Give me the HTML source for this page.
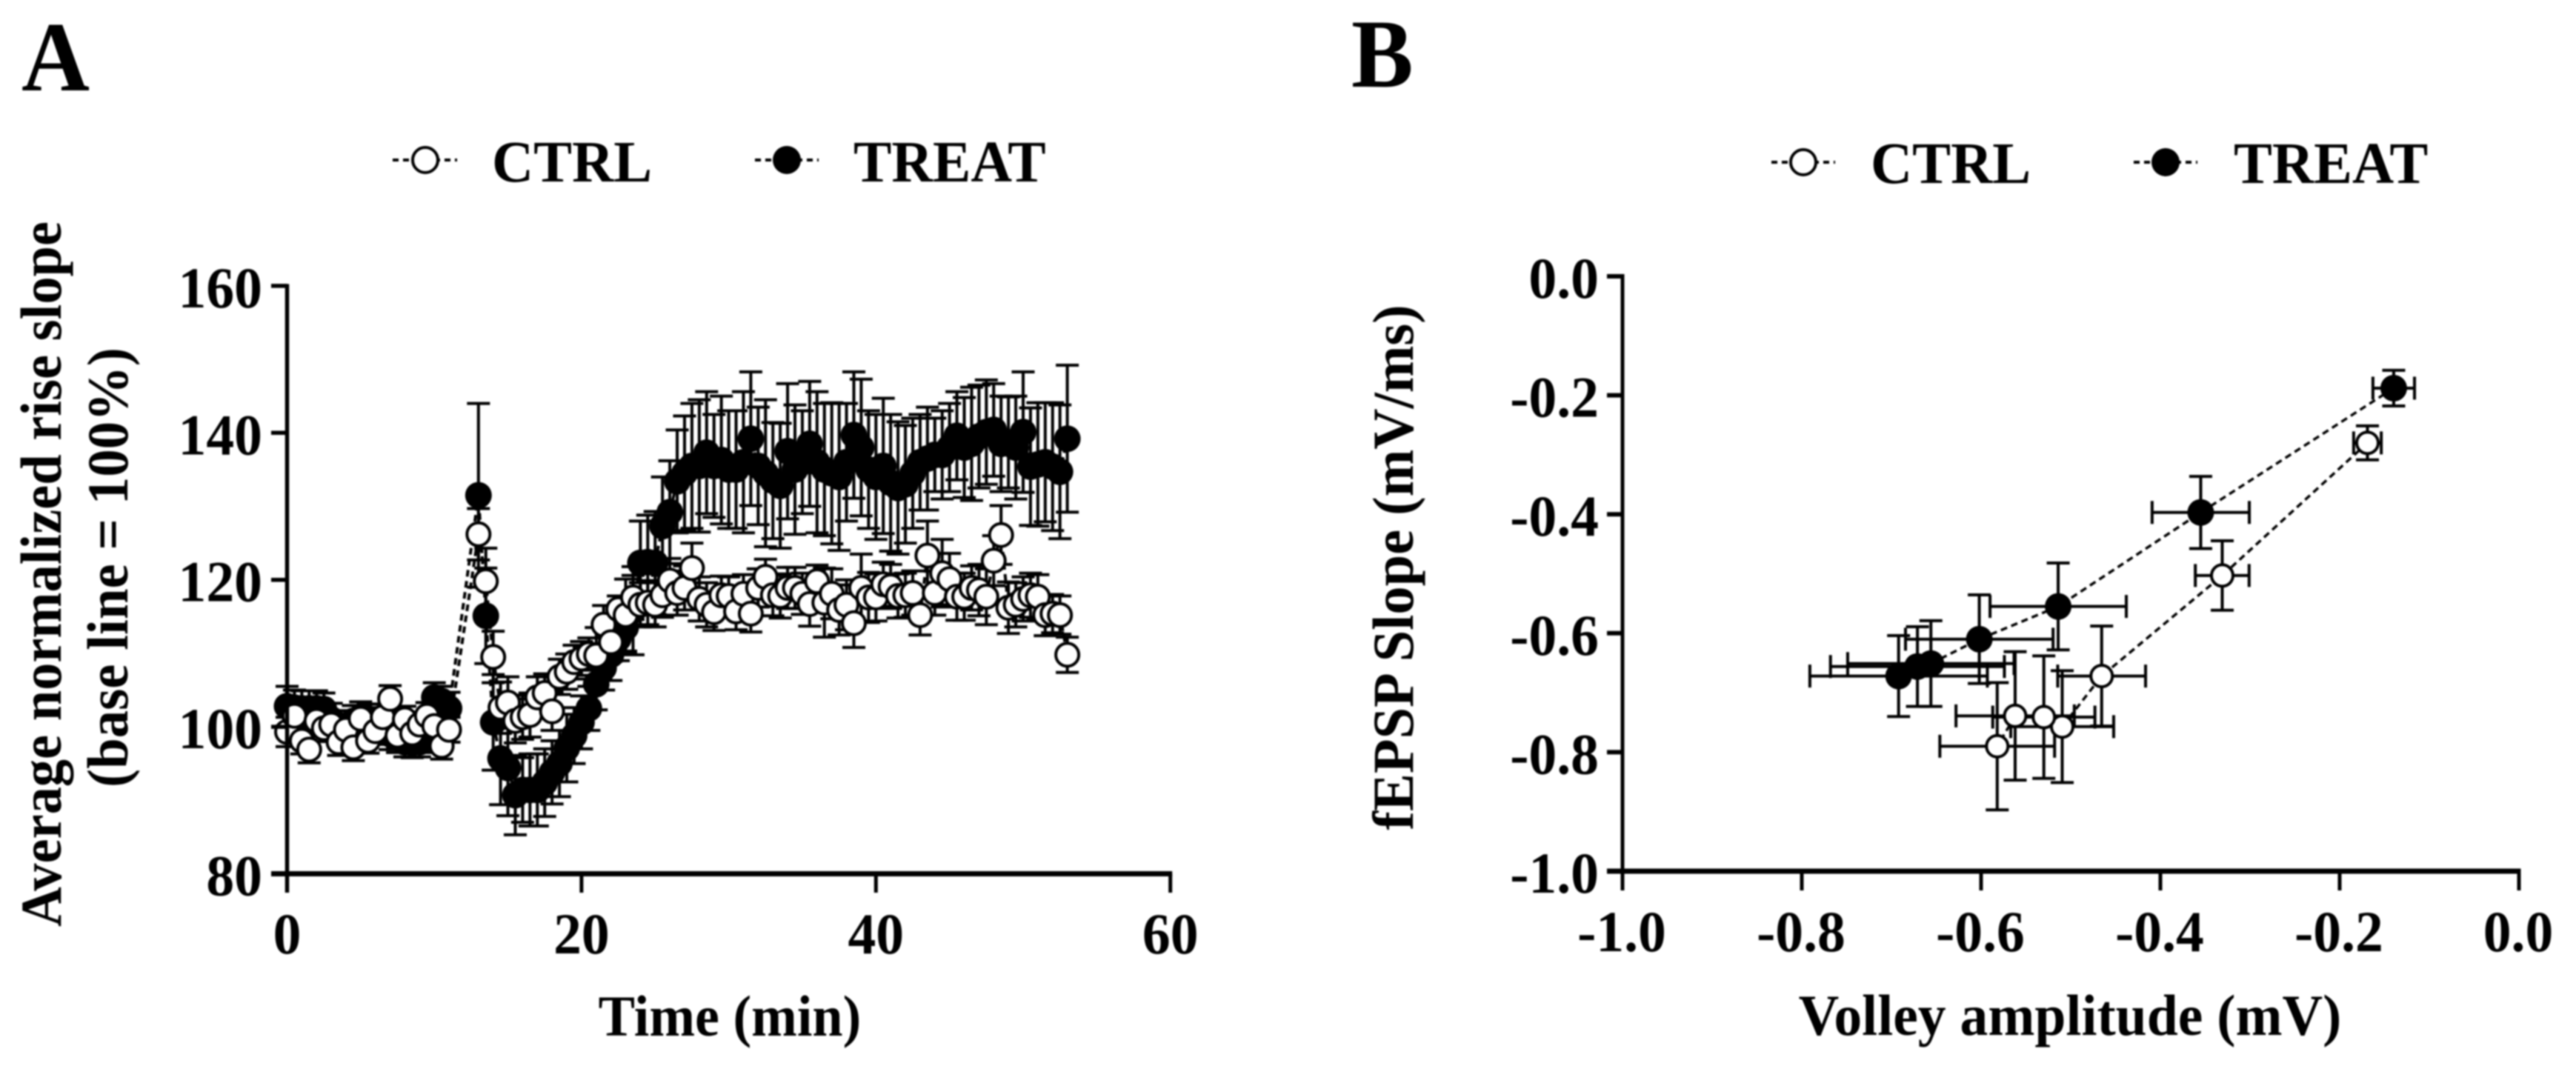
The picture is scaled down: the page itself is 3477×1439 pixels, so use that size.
<!DOCTYPE html>
<html lang="en">
<head>
<meta charset="utf-8">
<title>Rise slope time course and input-output curve</title>
<style>
html,body{margin:0;padding:0;background:#fff;width:3477px;height:1439px;overflow:hidden}
svg{display:block;filter:blur(1px)}
text{font-family:"Liberation Serif",serif;font-weight:700;fill:#000}
</style>
</head>
<body>
<svg id="figure" xmlns="http://www.w3.org/2000/svg" width="3477" height="1439" viewBox="0 0 3477 1439">
  <rect width="3477" height="1439" fill="#fff"/>

  <text font-size="134" text-anchor="middle" transform="translate(75,122) scale(.95,1)">A</text>
  <text font-size="132" transform="translate(1824,117) scale(.95,1)">B</text>

  <g>
    <g>
      <line x1="530" y1="216" x2="617" y2="216" stroke="#000" stroke-width="4" stroke-dasharray="8 6"/>
      <circle cx="574" cy="216" r="17" fill="#fff" stroke="#000" stroke-width="4"/>
      <text font-size="79" transform="translate(664,245) scale(.985,1)">CTRL</text>
    </g>
    <g>
      <line x1="1019" y1="216" x2="1105" y2="216" stroke="#000" stroke-width="4" stroke-dasharray="8 6"/>
      <circle cx="1062" cy="216" r="19" fill="#000"/>
      <text font-size="79" transform="translate(1152,245) scale(.975,1)">TREAT</text>
    </g>
  </g>

  <g>
    <g>
      <line x1="2391" y1="219" x2="2477" y2="219" stroke="#000" stroke-width="4" stroke-dasharray="8 6"/>
      <circle cx="2434" cy="219" r="17" fill="#fff" stroke="#000" stroke-width="4"/>
      <text font-size="79" transform="translate(2525,247) scale(.985,1)">CTRL</text>
    </g>
    <g>
      <line x1="2880" y1="219" x2="2966" y2="219" stroke="#000" stroke-width="4" stroke-dasharray="8 6"/>
      <circle cx="2923" cy="219" r="19" fill="#000"/>
      <text font-size="79" transform="translate(3015,247) scale(.985,1)">TREAT</text>
    </g>
  </g>

  <text font-size="78" text-anchor="middle" transform="translate(82,775) rotate(-90) scale(.955,1)">Average normalized rise slope</text>
  <text font-size="78" text-anchor="middle" transform="translate(172,766) rotate(-90) scale(.96,1)">(base line = 100%)</text>
  <text font-size="78" text-anchor="middle" transform="translate(985,1398) scale(.95,1)">Time (min)</text>
  <text font-size="78" text-anchor="middle" transform="translate(1907,766) rotate(-90) scale(.98,1)">fEPSP Slope (mV/ms)</text>
  <text font-size="78" text-anchor="middle" transform="translate(2794,1397) scale(.97,1)">Volley amplitude (mV)</text>

  <g id="panel-a"></g>
  <g id="panel-b"></g>
</svg>

<script>
// ---------- Panel A data ----------
const aXTicks = [0, 20, 40, 60];
const aYTicks = [80, 100, 120, 140, 160];
const aTime = [0,0.5,1,1.5,2,2.5,3,3.5,4,4.5,5,5.5,6,6.5,7,7.5,8,8.5,9,9.5,10,10.5,11,
  13,13.5,14,14.5,15,15.5,16,16.5,17,17.5,18,18.5,19,19.5,20,20.5,21,21.5,22,22.5,23,23.5,24,24.5,25,25.5,26,26.5,27,27.5,28,28.5,29,29.5,30,30.5,31,31.5,32,32.5,33,33.5,34,34.5,35,35.5,36,36.5,37,37.5,38,38.5,39,39.5,40,40.5,41,41.5,42,42.5,43,43.5,44,44.5,45,45.5,46,46.5,47,47.5,48,48.5,49,49.5,50,50.5,51,51.5,52,52.5,53];
const aCtrlMean = [99.3,101.5,98.1,96.9,100.8,99.8,100.3,97.9,99.6,97.2,101.1,98.1,99.4,101.3,103.8,98.8,101,99.1,100.3,101.5,100.1,97.4,99.6,
  126.2,119.8,109.5,102.6,103.3,100.8,101.3,101.6,104,104.6,102.1,106.8,107.5,108.8,109.3,109.9,109.7,113.9,111.5,116,115.2,117.6,116.6,116.9,116.6,117.9,119.9,118.2,118.9,121.6,117.4,116.6,115.6,117.9,117.8,115.7,118.1,115.4,118.9,120.4,117.9,117.8,118.9,118.9,118.1,116.7,119.8,116.9,118.1,115.9,116.6,114.1,118.9,117.6,117.6,119.4,119.1,117.8,117.9,118.2,115.2,123.3,118.2,120.9,120.1,117.7,117.7,118.9,118.6,117.7,122.6,126.1,116.2,116.6,117.4,117.9,117.7,115.2,115.4,115.2,109.8];
const aCtrlErr = [2,1.8,1.8,1.8,1.8,1.8,1.7,1.8,1.7,1.8,1.8,1.7,1.8,1.8,1.8,1.7,1.8,1.8,1.7,1.8,1.7,1.8,1.7,
  3.5,4.5,3.5,3.5,3.5,3,3,3,2.8,2.6,2.6,2.4,2.4,2.3,2.3,2.2,3.8,2.6,2.6,1.8,4.9,3,3,3,3,3,3,3,3,3.4,3,3,2.5,2.6,2.6,2.5,2.6,2.5,2.6,2.4,2.8,3,2.8,2.8,2.8,3,2.2,4.7,3.4,3.4,3.4,3.3,4.6,3.4,3.2,3,3,3,3,3,2.7,4.7,3,4.6,3.5,3.2,3.2,3,3.5,3.8,3.4,4,3.5,3,3,3,3,2.8,2.6,2.6,2.4];
const aTreatMean = [102.8,102.6,102.5,102.5,102.5,102.4,101,100,99.5,100.8,101.2,101,100.5,100,99,98.5,97.9,97.8,97.9,98.5,104,103.5,102.5,
  131.5,115.1,100.6,95.7,94.4,90.7,91.4,91.4,91.4,92.4,93.8,95,97.1,98.8,100.6,102.5,105.8,108,109.8,112,113.5,115.8,122.3,122.4,122.3,127.3,129.2,133.4,134.5,135.5,135.5,137.3,135.5,136.3,135,135,136,139.2,135.5,134.5,133.5,132.8,137.5,135,136,138.5,136,135,134.5,134,136,139.7,138,135,134,135.5,133.2,132.5,133,134.5,136,136.5,137,137,138,139.6,138,138.5,139.5,140.1,140.4,138.5,138.7,138,140.1,135.4,135.7,136,135.4,134.7,139.2];
const aTreatErr = [2.7,2.4,2.4,2.4,2.4,2.2,2.2,2.2,2.2,2.1,2.2,2.1,2.1,2.1,2.1,2,2,2,2,2,2,2,2.2,
  12.5,6.5,6.5,6.3,6.5,5.4,4.4,4.9,4.9,4.6,4.3,4.5,4.6,3.8,3.6,3,3.5,3,3.5,3,3.5,6,5.7,6.4,7,6.7,7,7,7.8,8.5,9,8.3,7,8.7,8,8,9.6,9.1,8,10,7.9,8.5,9.2,8.8,7,8.5,9.6,9,9.6,10,8,8.6,9.3,8,8.5,9.2,9.3,9,8,7.5,6.5,7,5,6,6,6,6.8,7.7,7,7.1,6.3,6.5,6.2,7,8.2,8,8.4,8.1,8.7,9.1,10];

// ---------- Panel B data ----------
const bXTicks = [-1, -0.8, -0.6, -0.4, -0.2, 0];
const bYTicks = [0, -0.2, -0.4, -0.6, -0.8, -1];
const bXLabels = ["-1.0", "-0.8", "-0.6", "-0.4", "-0.2", "0.0"];
const bYLabels = ["0.0", "-0.2", "-0.4", "-0.6", "-0.8", "-1.0"];
const bCtrlVolley = [-0.169, -0.331, -0.4655, -0.5095, -0.53, -0.562, -0.582];
const bCtrlSlope = [-0.28, -0.503, -0.672, -0.757, -0.741, -0.739, -0.79];
const bCtrlVolleyErr = [0.0154, 0.03, 0.049, 0.0574, 0.057, 0.066, 0.064];
const bCtrlSlopeErr = [0.0286, 0.0584, 0.084, 0.094, 0.103, 0.108, 0.107];
const bTreatVolley = [-0.1397, -0.355, -0.514, -0.602, -0.656, -0.671, -0.692];
const bTreatSlope = [-0.188, -0.397, -0.555, -0.61, -0.651, -0.656, -0.672];
const bTreatVolleyErr = [0.0232, 0.0542, 0.076, 0.0823, 0.0928, 0.097, 0.099];
const bTreatSlopeErr = [0.03, 0.0606, 0.073, 0.0745, 0.072, 0.067, 0.068];

// ---------- Axis functions ----------
const xA = t => 387.5 + t * 19.87;
const yA = v => 1179.5 - (v - 80) * 9.92;
const xB = v => 3400 + v * 1210;
const yB = v => 373 - v * 803;

const NS = "http://www.w3.org/2000/svg";
function make(parent, tag, attrs) {
  const node = document.createElementNS(NS, tag);
  for (const key in attrs) node.setAttribute(key, attrs[key]);
  parent.appendChild(node);
  return node;
}
function segment(parent, x1, y1, x2, y2, width) {
  return make(parent, "line", { x1, y1, x2, y2, stroke: "#000", "stroke-width": width });
}
function tickLabel(parent, x, y, str, anchor) {
  const t = make(parent, "text", {
    "font-size": 78,
    "text-anchor": anchor,
    transform: "translate(" + x + "," + y + ") scale(.97,1)"
  });
  t.textContent = str;
  return t;
}
function markerOf(parent, cx, cy, filled, openRadius, filledRadius) {
  if (filled) return make(parent, "circle", { cx, cy, r: filledRadius, fill: "#000" });
  return make(parent, "circle", { cx, cy, r: openRadius, fill: "#fff", stroke: "#000", "stroke-width": 4 });
}

// ---------- Panel A ----------
const gA = document.getElementById("panel-a");

function drawSeriesA(name, times, means, errs, filled) {
  const g = make(gA, "g", {});
  
  
  const points = times.map((t, i) => xA(t) + "," + yA(means[i])).join(" ");
  const path = make(g, "polyline", { points, fill: "none", stroke: "#000", "stroke-width": 4, "stroke-dasharray": "9 6" });
  
  
  times.forEach((t, i) => {
    const x = xA(t), top = yA(means[i] + errs[i]), bot = yA(means[i] - errs[i]);
    const bar = make(g, "path", {
      d: "M" + x + " " + top + "V" + bot + "M" + (x - 15.5) + " " + top + "H" + (x + 15.5) + "M" + (x - 15.5) + " " + bot + "H" + (x + 15.5),
      fill: "none", stroke: "#000", "stroke-width": 4
    });
    
    
  });
  times.forEach((t, i) => {
    const dot = markerOf(g, xA(t), yA(means[i]), filled, 15.5, 18);
    
    
  });
}
drawSeriesA("treat", aTime, aTreatMean, aTreatErr, true);
drawSeriesA("ctrl", aTime, aCtrlMean, aCtrlErr, false);

const aAxisY = segment(gA, xA(0), yA(160) - 2.5, xA(0), 1205, 5.5);


const aAxisX = segment(gA, 366, yA(80), xA(60) + 2.5, yA(80), 7);



aYTicks.forEach(v => {
  const tick = segment(gA, 366, yA(v), xA(0), yA(v), 5.5);
  
  
  const label = tickLabel(gA, 354, yA(v) + 29, String(v), "end");
  
  
});
aXTicks.forEach(v => {
  const tick = segment(gA, xA(v), yA(80), xA(v), 1205, 5);
  
  
  const label = tickLabel(gA, xA(v), 1287, String(v), "middle");
  
  
});

// ---------- Panel B ----------
const gB = document.getElementById("panel-b");

function drawSeriesB(name, volley, slope, volleyErr, slopeErr, filled) {
  const g = make(gB, "g", {});
  
  
  const points = volley.map((v, i) => xB(v) + "," + yB(slope[i])).join(" ");
  const path = make(g, "polyline", { points, fill: "none", stroke: "#000", "stroke-width": 3.5, "stroke-dasharray": "9 6" });
  
  
  volley.forEach((v, i) => {
    const x = xB(v), y = yB(slope[i]);
    const l = xB(v - volleyErr[i]), r = xB(v + volleyErr[i]);
    const t = yB(slope[i] + slopeErr[i]), b = yB(slope[i] - slopeErr[i]);
    const bar = make(g, "path", {
      d: "M" + x + " " + t + "V" + b + "M" + (x - 15.5) + " " + t + "H" + (x + 15.5) + "M" + (x - 15.5) + " " + b + "H" + (x + 15.5) +
         "M" + l + " " + y + "H" + r + "M" + l + " " + (y - 15.5) + "V" + (y + 15.5) + "M" + r + " " + (y - 15.5) + "V" + (y + 15.5),
      fill: "none", stroke: "#000", "stroke-width": 4
    });
    
    
  });
  volley.forEach((v, i) => {
    const dot = markerOf(g, xB(v), yB(slope[i]), filled, 14.5, 18);
    
    
  });
}
drawSeriesB("treat", bTreatVolley, bTreatSlope, bTreatVolleyErr, bTreatSlopeErr, true);
drawSeriesB("ctrl", bCtrlVolley, bCtrlSlope, bCtrlVolleyErr, bCtrlSlopeErr, false);

const bAxisY = segment(gB, xB(-1), yB(0) - 3, xB(-1), 1202, 5);


const bAxisX = segment(gB, 2169, yB(-1), xB(0) + 2.5, yB(-1), 7);



bYTicks.forEach((v, i) => {
  const tick = segment(gB, 2169, yB(v), xB(-1), yB(v), 6);
  
  
  const label = tickLabel(gB, 2158, yB(v) + 29, bYLabels[i], "end");
  
  
});
bXTicks.forEach((v, i) => {
  const tick = segment(gB, xB(v), yB(-1), xB(v), 1202, 5);
  
  
  const label = tickLabel(gB, xB(v) - 1, 1284, bXLabels[i], "middle");
  
  
});
</script>
</body>
</html>
